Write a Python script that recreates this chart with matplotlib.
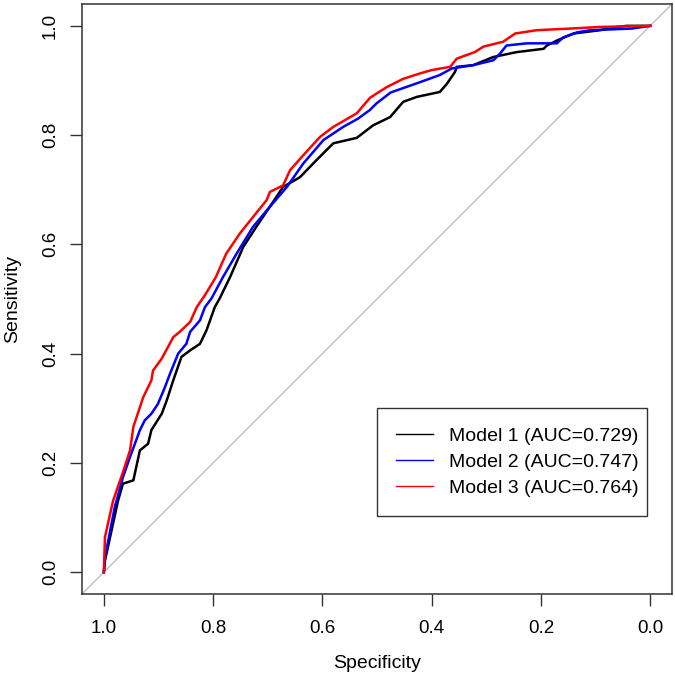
import matplotlib
matplotlib.use('Agg')
import matplotlib.pyplot as plt
from matplotlib.lines import Line2D

# ROC curve points (specificity, sensitivity)
spec_m1 = [1.000, 0.998, 0.974, 0.965, 0.946, 0.934, 0.919, 0.913, 0.894, 0.885,
           0.873, 0.858, 0.842, 0.824, 0.812, 0.797, 0.788, 0.769, 0.745, 0.721,
           0.672, 0.641, 0.611, 0.580, 0.537, 0.507, 0.476, 0.452, 0.427, 0.385,
           0.372, 0.357, 0.354, 0.324, 0.287, 0.244, 0.195, 0.189, 0.171, 0.140,
           0.092, 0.061, 0.043, 0.000]
sens_m1 = [0.000, 0.021, 0.131, 0.162, 0.168, 0.223, 0.235, 0.260, 0.290, 0.314,
           0.351, 0.394, 0.406, 0.418, 0.443, 0.485, 0.501, 0.540, 0.595, 0.632,
           0.705, 0.723, 0.754, 0.785, 0.795, 0.818, 0.833, 0.861, 0.870, 0.879,
           0.894, 0.916, 0.925, 0.928, 0.943, 0.952, 0.958, 0.964, 0.973, 0.986,
           0.992, 0.998, 1.000, 1.000]

spec_m2 = [1.000, 0.998, 0.980, 0.965, 0.952, 0.934, 0.925, 0.913, 0.901, 0.888,
           0.879, 0.864, 0.849, 0.842, 0.824, 0.815, 0.803, 0.782, 0.757, 0.727,
           0.696, 0.665, 0.635, 0.598, 0.562, 0.535, 0.513, 0.501, 0.475, 0.421,
           0.385, 0.363, 0.324, 0.287, 0.275, 0.263, 0.226, 0.171, 0.159, 0.134,
           0.110, 0.034, 0.000]
sens_m2 = [0.000, 0.027, 0.119, 0.174, 0.211, 0.260, 0.278, 0.290, 0.308, 0.339,
           0.363, 0.400, 0.418, 0.440, 0.461, 0.485, 0.501, 0.540, 0.583, 0.632,
           0.669, 0.705, 0.748, 0.791, 0.815, 0.830, 0.846, 0.858, 0.878, 0.897,
           0.910, 0.922, 0.928, 0.937, 0.949, 0.964, 0.968, 0.968, 0.979, 0.988,
           0.992, 0.995, 1.000]

spec_m3 = [1.000, 0.998, 0.983, 0.965, 0.952, 0.946, 0.934, 0.928, 0.913, 0.910,
           0.894, 0.873, 0.861, 0.842, 0.830, 0.815, 0.795, 0.776, 0.751, 0.727,
           0.702, 0.696, 0.672, 0.659, 0.635, 0.604, 0.580, 0.537, 0.513, 0.501,
           0.482, 0.452, 0.421, 0.400, 0.366, 0.354, 0.321, 0.305, 0.269, 0.247,
           0.208, 0.147, 0.092, 0.000]
sens_m3 = [0.000, 0.064, 0.131, 0.183, 0.223, 0.266, 0.302, 0.320, 0.351, 0.369,
           0.391, 0.430, 0.440, 0.458, 0.485, 0.507, 0.540, 0.583, 0.620, 0.650,
           0.681, 0.696, 0.708, 0.736, 0.763, 0.797, 0.815, 0.840, 0.868, 0.876,
           0.888, 0.903, 0.913, 0.919, 0.925, 0.940, 0.952, 0.962, 0.971, 0.986,
           0.992, 0.995, 0.998, 1.000]

labels = ['Model 1 (AUC=0.729)', 'Model 2 (AUC=0.747)', 'Model 3 (AUC=0.764)']
colors = ['black', 'blue', 'red']
ticks = [0.0, 0.2, 0.4, 0.6, 0.8, 1.0]

plt.rcParams['font.family'] = ['Liberation Sans', 'DejaVu Sans']
fs_tick = 13.5
fs = 14

fig = plt.figure(figsize=(6.75, 6.8), dpi=100)
ax = fig.add_axes([82 / 675, 86 / 680, 590 / 675, 590 / 680])

# chance line
ax.axline((1, 0), (0, 1), color='#BEBEBE', lw=1.0, zorder=1)

curves = [(spec_m1, sens_m1), (spec_m2, sens_m2), (spec_m3, sens_m3)]
for (sp, se), c in zip(curves, colors):
    ax.plot(sp, se, color=c, lw=1.8, zorder=2)

ax.set_xlim(1.04, -0.04)
ax.set_ylim(-0.04, 1.04)
ax.set_aspect('equal')

ax.set_xticks(ticks)
ax.set_yticks(ticks)
ax.set_xticklabels(['%.1f' % t for t in ticks])
ax.set_yticklabels(['%.1f' % t for t in ticks])
ax.tick_params(axis='both', direction='out', length=8.5, width=1, labelsize=fs_tick, color='#333333')
ax.tick_params(axis='x', pad=10.5)
ax.tick_params(axis='y', pad=8, labelrotation=90)
for lab in ax.get_yticklabels():
    lab.set_va('center')

for sp in ax.spines.values():
    sp.set_linewidth(1.1)
    sp.set_color('#333333')

ax.set_xlabel('Specificity', fontsize=fs)
ax.set_ylabel('Sensitivity', fontsize=fs)
ax.xaxis.set_label_coords(0.5, -0.103)
ax.yaxis.set_label_coords(-0.103, 0.5)

handles = [Line2D([], [], color=c, lw=1.0) for c in colors]
leg = ax.legend(handles, labels, loc='upper left', bbox_to_anchor=(0.5, 0.1339, 0.4576, 0.1814),
                mode='expand', borderaxespad=0, fontsize=fs, frameon=True, fancybox=False,
                handlelength=1.9, handletextpad=0.8, borderpad=1.0, labelspacing=0.42)
leg.get_frame().set_edgecolor('black')
leg.get_frame().set_linewidth(1.0)

fig.savefig('out.png', dpi=100)
